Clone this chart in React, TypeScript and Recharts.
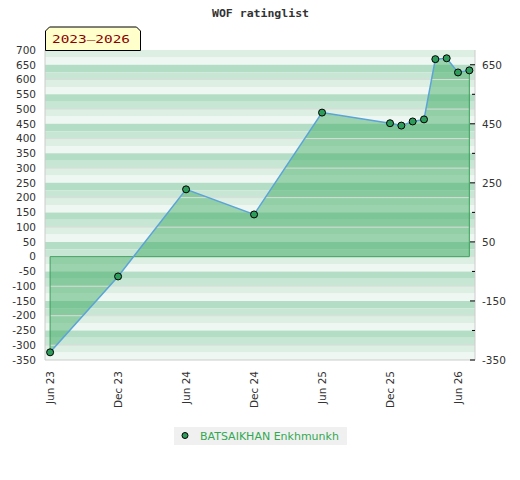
import React from 'react';
import { ComposedChart, Area, Line, XAxis, YAxis, ReferenceArea, ReferenceLine } from 'recharts';

// Months counted from Jun 2023
const months = [0, 6, 12, 18, 24, 30, 31, 32, 33, 34, 35, 36, 37];
const ratings = [-324, -67, 228, 143, 488, 452, 444, 458, 465, 669, 672, 624, 631];

const xTickValues = [0, 6, 12, 18, 24, 30, 36];
const xTickLabels = ['Jun 23', 'Dec 23', 'Jun 24', 'Dec 24', 'Jun 25', 'Dec 25', 'Jun 26'];
const leftTicks = [-350, -300, -250, -200, -150, -100, -50, 0, 50, 100, 150, 200, 250, 300, 350, 400, 450, 500, 550, 600, 650, 700];
const rightTicks = [-350, -250, -150, -50, 50, 150, 250, 350, 450, 550, 650];
const rightMajor = [650, 450, 250, 50, -150, -350];
const gridLines = [600, 500, 400, 300, 200, 100, 0, -100, -200, -300];

const seriesName = 'BATSAIKHAN Enkhmunkh';
const title = 'WOF ratinglist';
const periodLabel = '2023–2026';

const Y_MIN = -350;
const Y_MAX = 700;
const stripeColors = ['#dcefe2', '#eef7f1', '#b3ddc4', '#c8e6d4'];
const bands: { y1: number; y2: number; fill: string }[] = [];
for (let top = Y_MAX, i = 0; top > Y_MIN; top -= 25, i++) {
  bands.push({ y1: top - 25, y2: top, fill: stripeColors[i % 4] });
}

const data = months.map((m, i) => ({ month: m, rating: ratings[i] }));

const axisFont = 'DejaVu Sans, sans-serif';

const XTick = (props: any) => {
  const { x, y, payload } = props;
  const idx = xTickValues.indexOf(payload.value);
  return (
    <text
      transform={`translate(${x},${y}) rotate(-90)`}
      textAnchor="end"
      dy="0.35em"
      fontSize={10.5}
      fontFamily={axisFont}
      fill="#333"
    >
      {idx >= 0 ? xTickLabels[idx] : ''}
    </text>
  );
};

const LeftTick = (props: any) => {
  const { x, y, payload } = props;
  return (
    <text x={x} y={y} dy="0.36em" textAnchor="end" fontSize={10.5} fontFamily={axisFont} fill="#333">
      {payload.value}
    </text>
  );
};

const RightTick = (props: any) => {
  const { x, y, payload } = props;
  const major = rightMajor.indexOf(payload.value) >= 0;
  return (
    <g>
      <line x1={x - (major ? 12 : 10)} x2={x - 7} y1={y} y2={y} stroke="#000" strokeWidth={1} />
      {major ? (
        <text x={x} y={y} dy="0.36em" textAnchor="start" fontSize={10.5} fontFamily={axisFont} fill="#333">
          {payload.value}
        </text>
      ) : null}
    </g>
  );
};

export default function App() {
  const last = months.length - 1;
  return (
    <div style={{ position: 'absolute', left: 0, top: 0, width: 520, height: 480, background: '#fff' }}>
      <ComposedChart width={520} height={480} data={data} margin={{ top: 50, right: 0, bottom: 70, left: 0 }}>
        {bands.map((b, i) => (
          <ReferenceArea
            key={'b' + i}
            yAxisId="left"
            y1={b.y1}
            y2={b.y2}
            fill={b.fill}
            fillOpacity={1}
            stroke="none"
            ifOverflow="visible"
          />
        ))}
        {gridLines.map((v) => (
          <ReferenceLine key={'g' + v} yAxisId="left" y={v} stroke="#d9dcd9" strokeWidth={1} />
        ))}
        <XAxis
          dataKey="month"
          type="number"
          domain={[-0.45, 37.5]}
          ticks={xTickValues}
          tickLine={false}
          tickSize={0}
          tickMargin={11}
          axisLine={{ stroke: '#cccccc' }}
          tick={<XTick />}
          height={50}
          interval={0}
          allowDataOverflow
        />
        <YAxis
          yAxisId="left"
          orientation="left"
          domain={[Y_MIN, Y_MAX]}
          ticks={leftTicks}
          tickLine={false}
          tickSize={0}
          tickMargin={9}
          axisLine={{ stroke: '#cccccc' }}
          tick={<LeftTick />}
          width={45}
          interval={0}
          allowDataOverflow
        />
        <YAxis
          yAxisId="right"
          orientation="right"
          domain={[Y_MIN, Y_MAX]}
          ticks={rightTicks}
          tickLine={false}
          tickSize={0}
          tickMargin={7}
          axisLine={{ stroke: '#cccccc' }}
          tick={<RightTick />}
          width={45}
          interval={0}
          allowDataOverflow
        />
        <Area
          yAxisId="left"
          type="linear"
          dataKey="rating"
          baseValue={0}
          fill="rgb(63,171,100)"
          fillOpacity={0.475}
          stroke="none"
          isAnimationActive={false}
          dot={false}
          activeDot={false}
        />
        <ReferenceLine
          yAxisId="left"
          segment={[{ x: months[0], y: 0 }, { x: months[last], y: 0 }]}
          stroke="#3a9f5a"
          strokeWidth={1}
        />
        <ReferenceLine
          yAxisId="left"
          segment={[{ x: months[0], y: 0 }, { x: months[0], y: ratings[0] }]}
          stroke="#3a9f5a"
          strokeWidth={1}
        />
        <ReferenceLine
          yAxisId="left"
          segment={[{ x: months[last], y: 0 }, { x: months[last], y: ratings[last] }]}
          stroke="#3a9f5a"
          strokeWidth={1}
        />
        <Line
          yAxisId="left"
          type="linear"
          dataKey="rating"
          name={seriesName}
          stroke="#5ba3d9"
          strokeWidth={1.5}
          dot={{ r: 3.5, fill: '#2e9c5a', stroke: '#000', strokeWidth: 1 }}
          activeDot={false}
          isAnimationActive={false}
        />
      </ComposedChart>
      <svg
        width={520}
        height={480}
        style={{ position: 'absolute', left: 0, top: 0, pointerEvents: 'none' }}
      >
        <text
          x={212}
          y={17}
          fontFamily="DejaVu Sans Mono, monospace"
          fontWeight="bold"
          fontSize={10}
          textLength={97}
          lengthAdjust="spacingAndGlyphs"
          fill="#333"
        >
          {title}
        </text>
        <path d="M45.5,50.5 V31 L49.5,27 H136.5 L140.5,31 V50.5 Z" fill="#ffffcc" stroke="#000" strokeWidth={1} />
        <text
          x={52}
          y={42.5}
          fontFamily="DejaVu Sans Mono, monospace"
          fontSize={11}
          textLength={78}
          lengthAdjust="spacingAndGlyphs"
          fill="#8b0000"
        >
          {periodLabel}
        </text>
        <rect x={174} y={427} width={173} height={18} fill="#f0f0f0" />
        <circle cx={185} cy={435.5} r={3} fill="#2e9c5a" stroke="#000" strokeWidth={1} />
        <text x={200} y={439.5} fontFamily={axisFont} fontSize={11} fill="#33a852">
          {seriesName}
        </text>
      </svg>
    </div>
  );
}
